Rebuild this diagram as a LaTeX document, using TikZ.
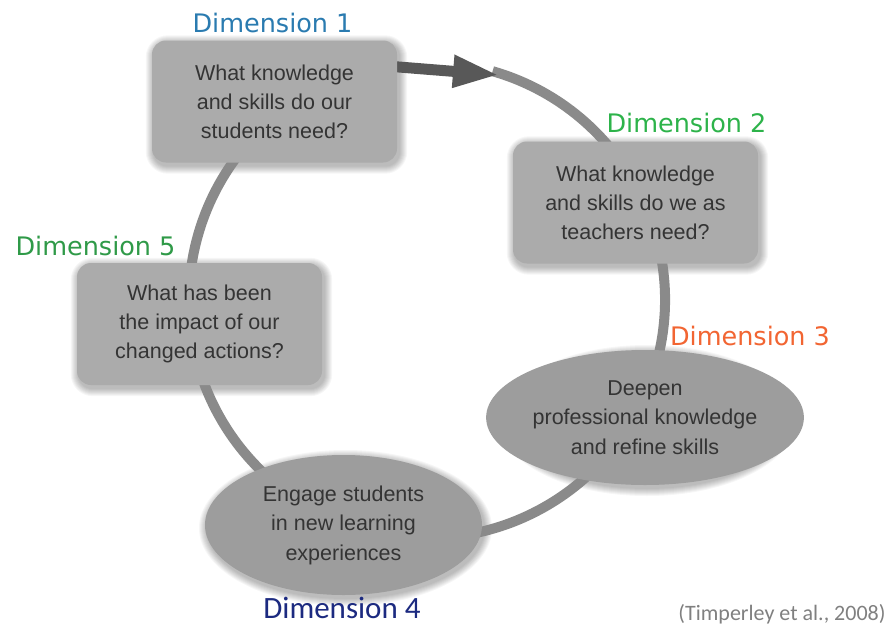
\documentclass[tikz,border=0pt]{standalone}
\usepackage{fontspec}
\setmainfont{Liberation Sans}
\newfontfamily\dimfont{DejaVu Sans}
\newfontfamily\citefont{Carlito}
\usetikzlibrary{shapes.geometric,arrows.meta,backgrounds}
\definecolor{boxgray}{HTML}{ABABAB}
\definecolor{ellgray}{HTML}{9D9D9D}
\definecolor{txtgray}{HTML}{343434}
\definecolor{ringgray}{HTML}{8A8A8A}
\definecolor{arrowgray}{HTML}{585858}
\definecolor{dimA}{HTML}{2A7BB0}
\definecolor{dimB}{HTML}{2DB34A}
\definecolor{dimC}{HTML}{F26532}
\definecolor{dimD}{HTML}{1C2A80}
\definecolor{dimE}{HTML}{2F9A48}
\definecolor{citegray}{HTML}{808080}
\tikzset{
  qbox/.style={rectangle, rounded corners=14pt, fill=boxgray, minimum width=245pt,
    minimum height=122pt, align=center, text=txtgray, inner sep=0pt,
    font=\fontsize{21.5}{29}\selectfont},
  qell/.style={ellipse, fill=ellgray, align=center, text=txtgray, inner sep=0pt,
    font=\fontsize{21.5}{29.5}\selectfont},
  dimlabel/.style={anchor=base, inner sep=0pt, font=\dimfont\fontsize{25.5}{30}\selectfont},
  ringline/.style={draw=ringgray, line width=10pt},
  bigarrow/.style={draw=arrowgray, line width=11pt, -{Triangle[length=46pt,width=30pt]}},
  shadowlayer/.style={fill=black, opacity=0.035},
}
\begin{document}
\begin{tikzpicture}[x=1pt,y=-1pt]
\useasboundingbox (0,0) rectangle (891,629);

\node[qbox] (b1) at (274.5,101.5) {What knowledge\\and skills do our\\students need?};
\node[qbox] (b2) at (635.5,202.5) {What knowledge\\and skills do we as\\teachers need?};
\node[qbox] (b5) at (199.5,324) {What has been\\the impact of our\\changed actions?};
\node[qell, minimum width=280pt, minimum height=135pt] (e3) at (645,417.5)
  {Deepen\\professional knowledge\\and refine skills};
\node[qell, minimum width=277pt, minimum height=140pt] (e4) at (343.5,525)
  {Engage students\\in new learning\\experiences};

\node[dimlabel, text=dimA] (d1) at (272.5,32) {Dimension 1};
\node[dimlabel, text=dimB] (d2) at (686.5,132) {Dimension 2};
\node[dimlabel, text=dimC] (d3) at (750,345) {Dimension 3};
\node[anchor=base, inner sep=0pt, text=dimD, font=\citefont\fontsize{31}{36}\selectfont] (d4) at (342,618) {Dimension 4};
\node[dimlabel, text=dimE] (d5) at (95.5,255) {Dimension 5};
\node[anchor=base, inner sep=0pt, text=citegray, font=\citefont\fontsize{22}{26}\selectfont] (cite) at (782,620) {(Timperley et al., 2008)};

\coordinate (ringc) at (427,300);
\coordinate (astart) at (380,65.5);
\coordinate (atip) at (499,75);

\begin{scope}[on background layer]
  \fill[white] (0,0) rectangle (891,629);
  % soft shadows
  \foreach \n in {b1,b2,b5}{
    \foreach \k in {1,...,8}{
      \fill[shadowlayer, rounded corners={14pt+\k pt}]
        ([shift={(2-\k,3-\k)}]\n.north west) rectangle ([shift={(2+\k,3+\k)}]\n.south east);
    }
  }
  \foreach \k in {1,...,8}{
    \fill[shadowlayer] ([shift={(2,3)}]e3.center) ellipse[x radius=140+\k, y radius=67.5+\k];
    \fill[shadowlayer] ([shift={(2,3)}]e4.center) ellipse[x radius=138.5+\k, y radius=70+\k];
  }
  \draw[ringline] ([shift={(-74:238)}]ringc) arc[start angle=-74, end angle=260, radius=238];
  \draw[bigarrow] (astart) -- (atip);
\end{scope}
\end{tikzpicture}
\end{document}
